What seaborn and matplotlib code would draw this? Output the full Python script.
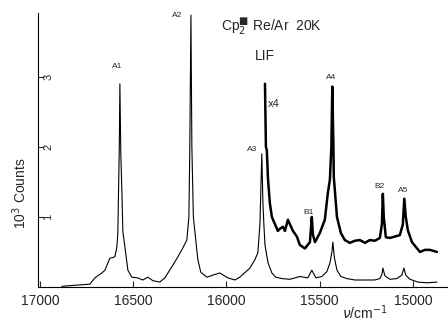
import numpy as np
import pandas as pd
import matplotlib
matplotlib.use("Agg")
import matplotlib.pyplot as plt
import seaborn as sns

# Lower trace (x1) : wavenumber (cm-1), counts (10^3)
wn_low = [16882, 16786, 16732, 16705, 16668, 16651, 16625, 16598, 16587, 16582,
          16574, 16571, 16566, 16560, 16555, 16544, 16528, 16507, 16475, 16448,
          16421, 16394, 16357, 16330, 16292, 16260, 16233, 16212, 16201, 16196,
          16190, 16185, 16177, 16168, 16153, 16137, 16104, 16072, 16035, 15992,
          15954, 15928, 15874, 15847, 15831, 15820, 15810, 15804, 15799, 15793,
          15777, 15756, 15735, 15702, 15660, 15606, 15563, 15542, 15520, 15488,
          15461, 15445, 15434, 15429, 15421, 15407, 15386, 15354, 15311, 15247,
          15204, 15177, 15166, 15161, 15150, 15123, 15086, 15059, 15048, 15038,
          15016, 14973, 14925, 14871]
cnt_low = [0.01, 0.03, 0.04, 0.13, 0.20, 0.24, 0.41, 0.43, 0.57, 0.77,
           2.00, 2.90, 1.90, 1.34, 0.79, 0.57, 0.24, 0.14, 0.13, 0.10,
           0.14, 0.09, 0.07, 0.13, 0.29, 0.43, 0.56, 0.67, 1.00, 2.00,
           3.88, 2.00, 1.00, 0.77, 0.39, 0.21, 0.14, 0.17, 0.20, 0.13,
           0.10, 0.14, 0.27, 0.39, 0.49, 0.90, 1.90, 1.20, 0.90, 0.60,
           0.35, 0.20, 0.14, 0.12, 0.11, 0.15, 0.13, 0.24, 0.13, 0.15,
           0.22, 0.34, 0.50, 0.64, 0.42, 0.24, 0.15, 0.12, 0.10, 0.10,
           0.10, 0.12, 0.18, 0.27, 0.16, 0.11, 0.12, 0.17, 0.27, 0.17,
           0.11, 0.07, 0.06, 0.07]

# Upper trace (x4)
wn_up = [15793, 15788, 15783, 15777, 15767, 15756, 15740, 15724, 15713, 15697,
         15686, 15670, 15660, 15643, 15622, 15606, 15579, 15552, 15542, 15536,
         15525, 15499, 15472, 15456, 15445, 15437, 15432, 15426, 15424, 15407,
         15386, 15365, 15338, 15311, 15284, 15257, 15231, 15204, 15177, 15166,
         15161, 15156, 15145, 15123, 15097, 15070, 15054, 15046, 15038, 15027,
         15005, 14962, 14936, 14909, 14871]
cnt_up = [2.90, 2.00, 1.95, 1.55, 1.20, 1.00, 0.90, 0.80, 0.83, 0.86,
          0.80, 0.96, 0.90, 0.80, 0.72, 0.60, 0.55, 0.64, 1.00, 0.75,
          0.64, 0.77, 0.96, 1.34, 1.53, 2.00, 2.86, 2.00, 1.57, 1.00,
          0.77, 0.67, 0.63, 0.66, 0.67, 0.63, 0.67, 0.66, 0.70, 0.90,
          1.33, 1.00, 0.71, 0.70, 0.72, 0.74, 0.89, 1.26, 1.00, 0.81,
          0.64, 0.50, 0.53, 0.53, 0.50]

# Peak labels
peak_names = ["A1", "A2", "A3", "A4", "B1", "B2", "A5"]
peak_wn = [16587, 16262, 15863, 15440, 15558, 15177, 15054]
peak_cnt = [3.14, 3.87, 1.96, 2.99, 1.07, 1.43, 1.38]

x_ticks = [17000, 16500, 16000, 15500, 15000]
y_ticks = [1, 2, 3]

sns.set_style("ticks")
plt.rcParams['font.family'] = ['Liberation Sans', 'DejaVu Sans']

fig = plt.figure(figsize=(4.48, 3.23), dpi=100)
ax = fig.add_axes([38/448, 36/323, 409/448, 274/323])

df_low = pd.DataFrame({"wn": wn_low, "cnt": cnt_low})
df_up = pd.DataFrame({"wn": wn_up, "cnt": cnt_up})
sns.lineplot(data=df_low, x="wn", y="cnt", ax=ax, color="black", lw=0.8, estimator=None)
sns.lineplot(data=df_up, x="wn", y="cnt", ax=ax, color="black", lw=1.8, estimator=None)

ax.set_xlim(17010, 14817)
ax.set_ylim(0, 3.91)
ax.set_xticks(x_ticks)
ax.set_xticklabels([str(t) for t in x_ticks])
ax.set_yticks(y_ticks)
ax.set_yticklabels([str(t) for t in y_ticks])
ax.tick_params(axis="x", direction="in", length=4, width=0.8, labelsize=10, pad=5)
ax.tick_params(axis="y", direction="in", length=4, width=0.8, labelsize=8,
               pad=-11, labelrotation=90)
for lab in ax.get_yticklabels():
    lab.set_va("center")

for s in ["top", "right"]:
    ax.spines[s].set_visible(False)
for s in ["left", "bottom"]:
    ax.spines[s].set_linewidth(0.8)
    ax.spines[s].set_color("black")

ax.set_ylabel("10$^3$ Counts", fontsize=10)
ax.yaxis.set_label_coords(-0.022, 0.343)
ax.set_xlabel(r"$\nu$/cm$^{-1}$", fontsize=10, va="center")
ax.xaxis.set_label_coords(0.80, -0.095)

for n, w, c in zip(peak_names, peak_wn, peak_cnt):
    ax.text(w, c, n, fontsize=6, ha="center", va="center")

ax.text(15756, 3.70, r"Cp$_2^{\blacksquare}$ Re/Ar  20K", fontsize=10, ha="center", va="center")
ax.text(15794, 3.29, "LIF", fontsize=10, ha="center", va="center")
ax.text(15780, 2.61, "x4", fontsize=8, ha="left", va="center")

fig.savefig("out.png", dpi=100)
